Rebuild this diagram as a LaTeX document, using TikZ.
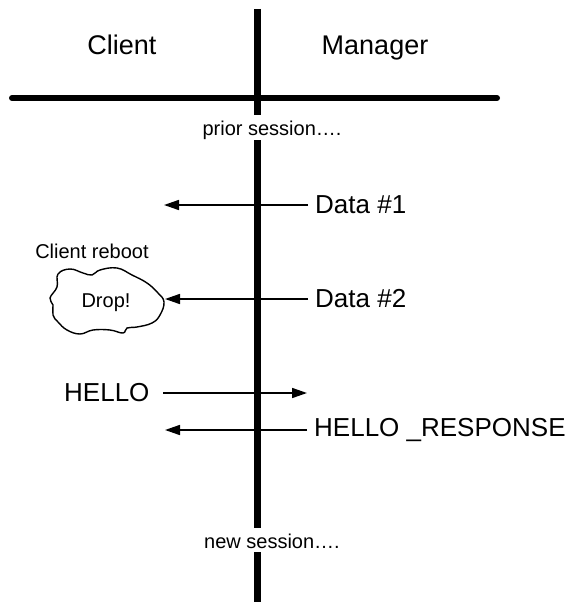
\documentclass[tikz,border=0pt]{standalone}
\usepackage{fontspec}
\setmainfont{Liberation Sans}
\usetikzlibrary{arrows.meta}
\begin{document}
\begin{tikzpicture}[x=1pt,y=-1pt,
  lbl/.style={inner sep=0pt,font=\fontsize{26}{30}\selectfont},
  head/.style={inner sep=0pt,font=\fontsize{27}{31}\selectfont},
  small/.style={inner sep=0pt,font=\fontsize{20}{24}\selectfont},
  lifeline/.style={line width=7pt},
  rule/.style={line width=6pt,line cap=round},
  msg/.style={line width=1.6pt,-{Triangle[length=15pt,width=10pt]}},
  cloudline/.style={line width=1.4pt}]
\useasboundingbox (0,0) rectangle (574,602);

% headings and header rule
\node[head,anchor=base] (client) at (122,55) {Client};
\node[head,anchor=base] (manager) at (375,55) {Manager};
\coordinate (rl) at (12,98);
\coordinate (rr) at (497,98);
\draw[rule] (rl) -- (rr);

% lifeline, broken by the session notes
\node[small,anchor=base] (prior) at (272,135) {prior session….};
\node[small,anchor=base] (new) at (272,548) {new session….};
\coordinate (l0) at (257,9);
\coordinate (l1) at (257,115);
\coordinate (l2) at (257,140);
\coordinate (l3) at (257,528);
\coordinate (l4) at (257,552);
\coordinate (l5) at (257,602);
\draw[lifeline] (l0) -- (l1);
\draw[lifeline] (l2) -- (l3);
\draw[lifeline] (l4) -- (l5);

% messages
\node[lbl,anchor=west] (d1) at (315,205) {Data \#1};
\coordinate (d1t) at (164,205);
\draw[msg] ([xshift=-7pt]d1.west) -- (d1t);

\node[lbl,anchor=west] (d2) at (315,299) {Data \#2};

\node[lbl,anchor=west] (hello) at (64,393) {HELLO};
\coordinate (hs) at (163,393);
\coordinate (ht) at (307,393);
\draw[msg] (hs) -- (ht);

\node[lbl,anchor=west] (resp) at (314,430) {HELLO \_RESPONSE};
\coordinate (rt) at (165,430);
\draw[msg] ([xshift=-7pt]resp.west) -- (rt);

% the dropped message ends at the cloud
\node[small,anchor=base] (reboot) at (92,258) {Client reboot};
\draw[cloudline] plot[smooth cycle,tension=0.7] coordinates {
  (50,298) (57,287) (58,274) (70,269) (83,273) (92,275) (100,270)
  (117,268) (132,275) (147,283) (158,293) (164,302) (160,315)
  (152,323) (137,327) (127,328) (123,333) (110,330) (93,330)
  (80,334) (67,330) (58,322) (53,315) (53,305)};
\node[small,anchor=base] (drop) at (106,307) {Drop!};
\coordinate (dropin) at (165,299);
\draw[msg] ([xshift=-7pt]d2.west) -- (dropin);
\end{tikzpicture}
\end{document}
